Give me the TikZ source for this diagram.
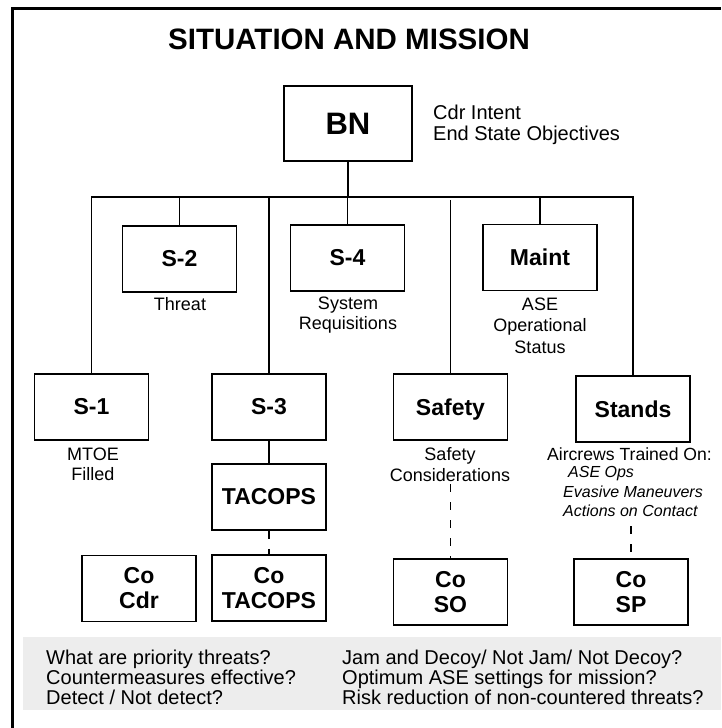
\documentclass[tikz,border=0pt]{standalone}
\usepackage{fontspec}
\setmainfont{Liberation Sans}
\usetikzlibrary{positioning}
\usetikzlibrary{calc}

\tikzset{
  unit/.style={draw, line width=1.8pt, minimum width=114pt, minimum height=66pt, inner sep=0pt, align=center, font=\fontsize{23}{25}\selectfont\bfseries},
  note/.style={align=center, inner sep=0pt, text depth=0pt, font=\fontsize{18}{20.5}\selectfont},
  task/.style={align=left, inner sep=0pt, text depth=0pt, font=\fontsize{16}{20}\selectfont\itshape},
  ask/.style={align=left, anchor=west, inner sep=0pt, font=\fontsize{20}{20}\selectfont},
  link/.style={line width=1.5pt},
  dashlink/.style={line width=1.5pt, dash pattern=on 8pt off 10pt}
}

\begin{document}
\begin{tikzpicture}[x=1pt, y=-1pt]
\useasboundingbox (0,0) rectangle (721,728);
% frame and question panel
\draw[line width=3pt] (12,728) -- (12,8) -- (721,8);
\fill[gray!14] (23,637) rectangle (721,710);

\node[font=\fontsize{29.5}{30}\selectfont\bfseries] (title) at (349,39) {SITUATION AND MISSION};

% battalion
\node[unit, minimum width=128pt, minimum height=75pt, font=\fontsize{31}{31}\selectfont\bfseries] (BN) at (348,123.5) {BN};
\node[note, align=left, anchor=west, font=\fontsize{20}{21}\selectfont] (intent) at (433,122.5) {Cdr Intent\\End State Objectives};

% staff
\node[unit] (S2) at (179.5,259) {S-2};
\node[unit] (S4) at (347.5,258) {S-4};
\node[unit] (Maint) at (540,257.5) {Maint};
\node[unit] (S1) at (91.5,407) {S-1};
\node[unit] (S3) at (269,407) {S-3};
\node[unit, text depth=0pt] (Safety) at (450.5,407) {Safety};
\node[unit] (Stands) at (633,409) {Stands};
\node[unit] (TACOPS) at (269,497) {TACOPS};

% companies
\node[unit] (CoCdr) at (139,588.5) {Co\\Cdr};
\node[unit] (CoTACOPS) at (269,588) {Co\\TACOPS};
\node[unit] (CoSO) at (450.5,592) {Co\\SO};
\node[unit] (CoSP) at (631,592) {Co\\SP};

% duties
\node[note] (threat) at (180,304) {Threat};
\node[note] (requis) at (348,313) {System\\Requisitions};
\node[note, font=\fontsize{18}{21.5}\selectfont] (status) at (540,325.5) {ASE\\Operational\\Status};
\node[note] (mtoe) at (93,464) {MTOE\\Filled};
\node[note] (safe) at (450,464.5) {Safety\\Considerations};
\node[note, font=\fontsize{17.6}{20}\selectfont] (crews) at (629.5,454) {Aircrews Trained On:};
\node[task, anchor=west] (ops) at (568,471.5) {ASE Ops};
\node[task, anchor=west] (evasive) at (563,492) {Evasive Maneuvers};
\node[task, anchor=west] (contact) at (563,511) {Actions on Contact};

% connectors
\coordinate (bus) at (348,197);
\draw[link] (BN.south) -- (BN.south |- bus);
\draw[link] (S1.north) -- (S1.north |- bus) -- (Stands.north |- bus) -- (Stands.north);
\draw[link] (S2.north) -- (S2.north |- bus);
\draw[link] (S3.north) -- (S3.north |- bus);
\draw[link] (S4.north) -- (S4.north |- bus);
\draw[link] (Maint.north) -- (Maint.north |- bus);
\draw[link] (Safety.north) -- ($(Safety.north |- bus)+(0,3)$);
\draw[link] (S3) -- (TACOPS);
\draw[dashlink] (TACOPS) -- (CoTACOPS);
\draw[dashlink, shorten <=3pt] (safe.south -| CoSO.north) -- (CoSO.north);
\draw[dashlink, shorten <=9pt] (contact.south -| CoSP.north) -- (CoSP.north);

% questions
\node[ask] (askL) at (46,677) {What are priority threats?\\Countermeasures effective?\\Detect / Not detect?};
\node[ask] (askR) at (342,677) {Jam and Decoy/ Not Jam/ Not Decoy?\\Optimum ASE settings for mission?\\Risk reduction of non-countered threats?};
\end{tikzpicture}
\end{document}
